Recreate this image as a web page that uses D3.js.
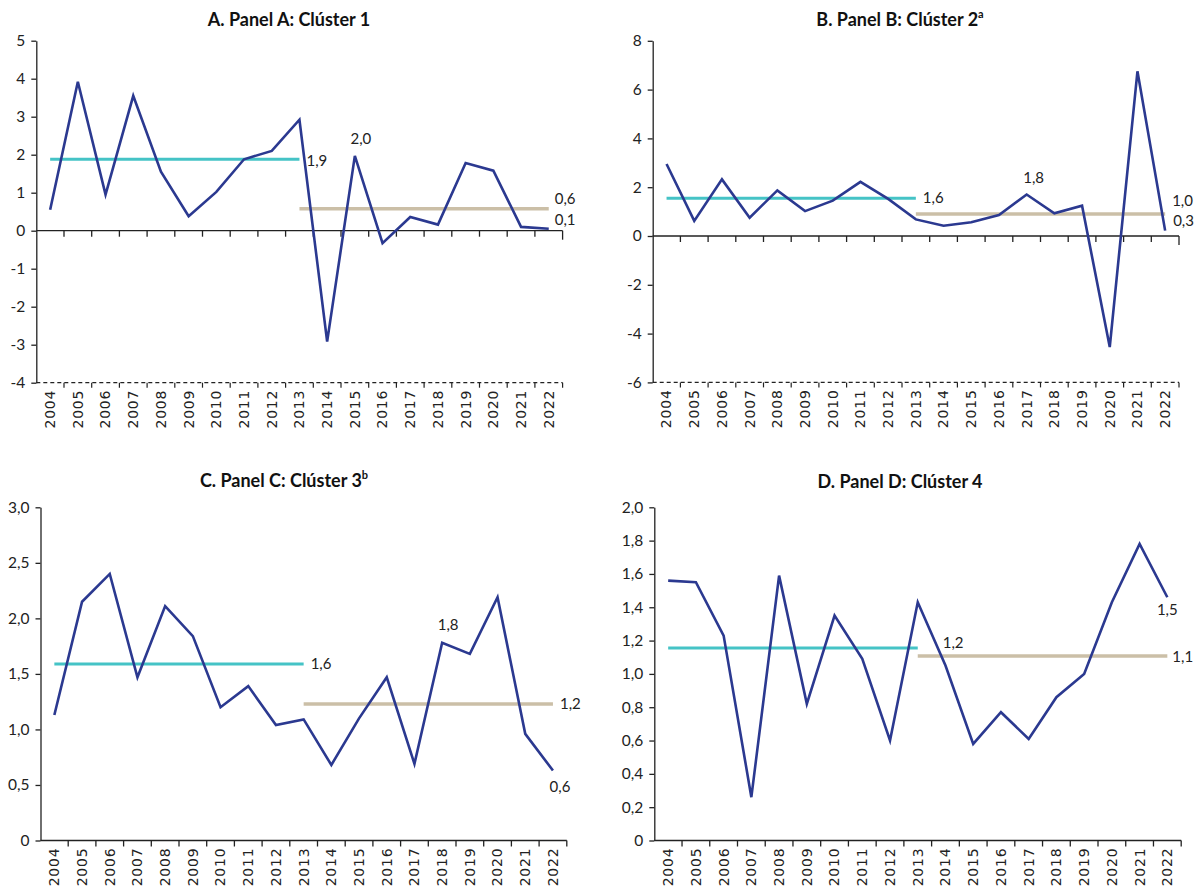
<!DOCTYPE html>
<html>
<head>
<meta charset="utf-8">
<script src="https://d3js.org/d3.v7.min.js"></script>
<style>
  body { margin: 0; background: #fff; }
  .title { font-family: Lato, "Open Sans", sans-serif; font-weight: bold; font-size: 18px; fill: #111; }
  .ytick text { font-family: Lato, sans-serif; font-size: 15.5px; fill: #222; }
  .xlab { font-family: "DejaVu Sans", sans-serif; font-size: 14px; letter-spacing: 0.8px; fill: #222; }
  .note { font-family: Lato, sans-serif; font-size: 15px; fill: #222; }
</style>
</head>
<body>
<script>
// ---- data ----
const years = ["2004","2005","2006","2007","2008","2009","2010","2011","2012","2013",
               "2014","2015","2016","2017","2018","2019","2020","2021","2022"];

const clusterA = [0.55, 3.92, 0.95, 3.55, 1.55, 0.38, 1.02, 1.88, 2.1, 2.92,
                  -2.92, 1.97, -0.33, 0.36, 0.16, 1.78, 1.58, 0.1, 0.05];
const clusterB = [2.95, 0.62, 2.32, 0.75, 1.87, 1.02, 1.45, 2.22, 1.52, 0.68,
                  0.42, 0.56, 0.86, 1.7, 0.93, 1.24, -4.55, 6.75, 0.22];
const clusterC = [1.13, 2.15, 2.4, 1.47, 2.11, 1.84, 1.2, 1.39, 1.04, 1.09,
                  0.68, 1.1, 1.47, 0.69, 1.78, 1.68, 2.19, 0.96, 0.63];
const clusterD = [1.56, 1.55, 1.23, 0.26, 1.59, 0.82, 1.35, 1.09, 0.6, 1.43,
                  1.05, 0.58, 0.77, 0.61, 0.86, 1.0, 1.43, 1.78, 1.46];

// period averages: 2004-2013, 2013-2022
const avgA = [1.88, 0.58];
const avgB = [1.55, 0.9];
const avgC = [1.59, 1.23];
const avgD = [1.155, 1.108];

const ticksA = [-4, -3, -2, -1, 0, 1, 2, 3, 4, 5];
const ticksB = [-6, -4, -2, 0, 2, 4, 6, 8];
const ticksC = [0, 0.5, 1, 1.5, 2, 2.5, 3];
const ticksD = [0, 0.2, 0.4, 0.6, 0.8, 1, 1.2, 1.4, 1.6, 1.8, 2];
const tickLabelsC = ["0", "0,5", "1,0", "1,5", "2,0", "2,5", "3,0"];
const tickLabelsD = ["0", "0,2", "0,4", "0,6", "0,8", "1,0", "1,2", "1,4", "1,6", "1,8", "2,0"];

const notesA = ["1,9", "2,0", "0,6", "0,1"];
const notesB = ["1,6", "1,8", "1,0", "0,3"];
const notesC = ["1,6", "1,8", "1,2", "0,6"];
const notesD = ["1,2", "1,1", "1,5"];

const NAVY = "#2b3990", TEAL = "#45c3c6", TAN = "#cbbfa7", AXIS = "#222";

const svg = d3.select("body").append("svg").attr("width", 1200).attr("height", 890);

const panels = [
  { title: ["A. Panel A: Clúster 1", ""], tx: 289, ty: 26, vals: clusterA, avg: avgA,
    dom: [-4, 5], ticks: ticksA, fmt: d => String(d),
    left: 36.3, right: 562.6, top: 40.7, bottom: 382.7,
    notes: [
      { t: notesA[0], at: "avg1", dx: 7, dy: 7, a: "start" },
      { t: notesA[1], at: "11", dx: 6, dy: -12, a: "middle" },
      { t: notesA[2], at: "avg2", dx: 6, dy: -5, a: "start" },
      { t: notesA[3], at: "18", dx: 6, dy: -4, a: "start" } ] },
  { title: ["B. Panel B: Clúster 2", "a"], tx: 900, ty: 26, vals: clusterB, avg: avgB,
    dom: [-6, 8], ticks: ticksB, fmt: d => String(d),
    left: 652.7, right: 1179, top: 40.8, bottom: 382.4,
    notes: [
      { t: notesB[0], at: "avg1", dx: 7, dy: 5, a: "start" },
      { t: notesB[1], at: "13", dx: 7, dy: -12, a: "middle" },
      { t: notesB[2], at: "avg2", dx: 7, dy: -8, a: "start" },
      { t: notesB[3], at: "18", dx: 8, dy: -5, a: "start" } ] },
  { title: ["C. Panel C: Clúster 3", "b"], tx: 284, ty: 487, vals: clusterC, avg: avgC,
    dom: [0, 3], ticks: ticksC, fmt: (d, i) => tickLabelsC[i],
    left: 40.5, right: 566.8, top: 507.3, bottom: 840.5,
    notes: [
      { t: notesC[0], at: "avg1", dx: 7, dy: 5, a: "start" },
      { t: notesC[1], at: "14", dx: 6, dy: -13, a: "middle" },
      { t: notesC[2], at: "avg2", dx: 7, dy: 5, a: "start" },
      { t: notesC[3], at: "18", dx: 7, dy: 21, a: "middle" } ] },
  { title: ["D. Panel D: Clúster 4", ""], tx: 900, ty: 488, vals: clusterD, avg: avgD,
    dom: [0, 2], ticks: ticksD, fmt: (d, i) => tickLabelsD[i],
    left: 654.3, right: 1181.2, top: 507.3, bottom: 840.5,
    notes: [
      { t: notesD[0], at: "avg1", dx: 25, dy: 0, a: "start" },
      { t: notesD[1], at: "avg2", dx: 5, dy: 6, a: "start" },
      { t: notesD[2], at: "18", dx: 0, dy: 18, a: "middle" } ] }
];

panels.forEach(p => {
  const g = svg.append("g");
  const x = d3.scaleBand().domain(years).range([p.left, p.right]);
  const y = d3.scaleLinear().domain(p.dom).range([p.bottom, p.top]);
  const cx = d => x(d) + x.bandwidth() / 2;
  const bounds = years.slice(1).map(d => x(d)).concat([p.right]);

  // title
  const tt = g.append("text").attr("class", "title")
    .attr("x", p.tx).attr("y", p.ty).attr("text-anchor", "middle");
  tt.append("tspan").text(p.title[0]);
  if (p.title[1]) tt.append("tspan").attr("font-size", 11).attr("dy", -8).text(p.title[1]);

  // y axis
  g.append("g").attr("class", "ytick")
    .attr("transform", `translate(${p.left},0)`)
    .call(d3.axisLeft(y).tickValues(p.ticks).tickFormat(p.fmt).tickSize(5).tickSizeOuter(0).tickPadding(6))
    .call(a => a.selectAll("line,path").attr("stroke", AXIS).attr("stroke-width", 1.3));

  // horizontal axis at zero
  const zeroY = y(0);
  g.append("line").attr("x1", p.left).attr("x2", p.right).attr("y1", zeroY).attr("y2", zeroY)
    .attr("stroke", AXIS).attr("stroke-width", 1.3);
  g.selectAll(".zt").data(bounds).join("line")
    .attr("x1", d => d).attr("x2", d => d)
    .attr("y1", zeroY).attr("y2", (d, i) => zeroY + (i === bounds.length - 1 && p.dom[0] < 0 ? 9 : 6))
    .attr("stroke", AXIS).attr("stroke-width", 1.3);

  // dashed category baseline when the axis crosses at zero
  if (p.dom[0] < 0) {
    g.append("line").attr("x1", p.left).attr("x2", p.right).attr("y1", p.bottom).attr("y2", p.bottom)
      .attr("stroke", AXIS).attr("stroke-width", 1.2).attr("stroke-dasharray", "4,3");
    g.selectAll(".bt").data(bounds).join("line")
      .attr("x1", d => d).attr("x2", d => d)
      .attr("y1", p.bottom).attr("y2", p.bottom + 5)
      .attr("stroke", AXIS).attr("stroke-width", 1.2);
  }

  // year labels
  g.selectAll(".xlab").data(years).join("text").attr("class", "xlab")
    .attr("transform", d => `translate(${cx(d)},${p.bottom + 7}) rotate(-90)`)
    .attr("dy", "0.35em").attr("text-anchor", "end").text(d => d);

  // period averages
  const seg1 = [years[0], years[9]], seg2 = [years[9], years[18]];
  g.append("line").attr("x1", cx(seg1[0])).attr("x2", cx(seg1[1]))
    .attr("y1", y(p.avg[0])).attr("y2", y(p.avg[0]))
    .attr("stroke", TEAL).attr("stroke-width", 3);
  g.append("line").attr("x1", cx(seg2[0])).attr("x2", cx(seg2[1]))
    .attr("y1", y(p.avg[1])).attr("y2", y(p.avg[1]))
    .attr("stroke", TAN).attr("stroke-width", 3.5);

  // series line
  g.append("path").datum(p.vals)
    .attr("fill", "none").attr("stroke", NAVY).attr("stroke-width", 2.6)
    .attr("stroke-linejoin", "miter")
    .attr("d", d3.line().x((d, i) => cx(years[i])).y(d => y(d)));

  // value notes
  p.notes.forEach(n => {
    let ax, ay;
    if (n.at === "avg1") { ax = cx(seg1[1]); ay = y(p.avg[0]); }
    else if (n.at === "avg2") { ax = cx(seg2[1]); ay = y(p.avg[1]); }
    else { const i = +n.at; ax = cx(years[i]); ay = y(p.vals[i]); }
    g.append("text").attr("class", "note")
      .attr("x", ax + n.dx).attr("y", ay + n.dy)
      .attr("text-anchor", n.a).text(n.t);
  });
});
</script>
</body>
</html>
